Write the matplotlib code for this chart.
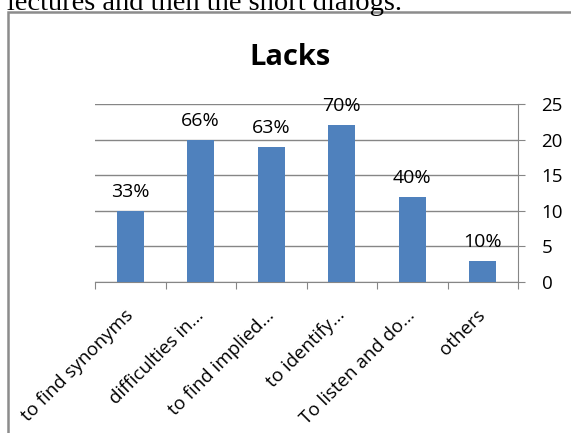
import matplotlib.pyplot as plt
from matplotlib.patches import Rectangle

categories = ["to find synonyms", "difficulties in...", "to find implied...",
              "to identify...", "To listen and do...", "others"]
counts = [10, 20, 19, 22, 12, 3]
percent_labels = ["33%", "66%", "63%", "70%", "40%", "10%"]
y_ticks = [0, 5, 10, 15, 20, 25]

W, H = 571, 433
fig = plt.figure(figsize=(W / 100, H / 100), dpi=100)

# cropped document text above the chart
fig.text(7 / W, 1 - 10 / H, "lectures and then the short dialogs.",
         family="Liberation Serif", fontsize=20.5, va="baseline", ha="left")

# chart frame (cropped at right and bottom)
fig.patches.append(Rectangle((8 / W, -0.1), 1.2, 1.1 - 12 / H,
                             transform=fig.transFigure, fill=False,
                             edgecolor="#8c8c8c", linewidth=1.8))

ax = fig.add_axes([95 / W, 1 - 282 / H, (518 - 95) / W, (282 - 104) / H])
x = list(range(len(categories)))
bars = ax.bar(x, counts, width=0.39, color="#4F81BD", zorder=3)

ax.set_xlim(-0.5, len(categories) - 0.5)
ax.set_ylim(0, 25)
ax.set_yticks(y_ticks)
ax.yaxis.tick_right()
ax.grid(axis="y", color="#868686", linewidth=1, zorder=0)
ax.tick_params(axis="y", length=5, color="#868686", labelsize=13.5, pad=12)

for s in ["left", "top"]:
    ax.spines[s].set_visible(False)
for s in ["right", "bottom"]:
    ax.spines[s].set_color("#868686")

ax.set_xticks([i - 0.5 for i in range(len(categories) + 1)], minor=False)
ax.set_xticklabels([])
ax.tick_params(axis="x", length=5, color="#868686")
ax.set_xticks(x, minor=True)
ax.set_xticklabels(categories, minor=True, rotation=45, ha="right",
                   va="center", rotation_mode="anchor", fontsize=13.5)
ax.tick_params(axis="x", which="minor", length=0, pad=22)

for rect, lab in zip(bars, percent_labels):
    ax.text(rect.get_x() + rect.get_width() / 2, rect.get_height() + 1.4, lab,
            ha="center", va="bottom", fontsize=14, zorder=4)

fig.text(290 / W, 1 - 65 / H, "Lacks", fontsize=21, fontweight="bold",
         ha="center", va="baseline", family="Open Sans")

for t in ax.get_xticklabels(minor=True) + ax.get_yticklabels() + ax.texts:
    t.set_family("Open Sans")

fig.savefig("out.png", dpi=100)
